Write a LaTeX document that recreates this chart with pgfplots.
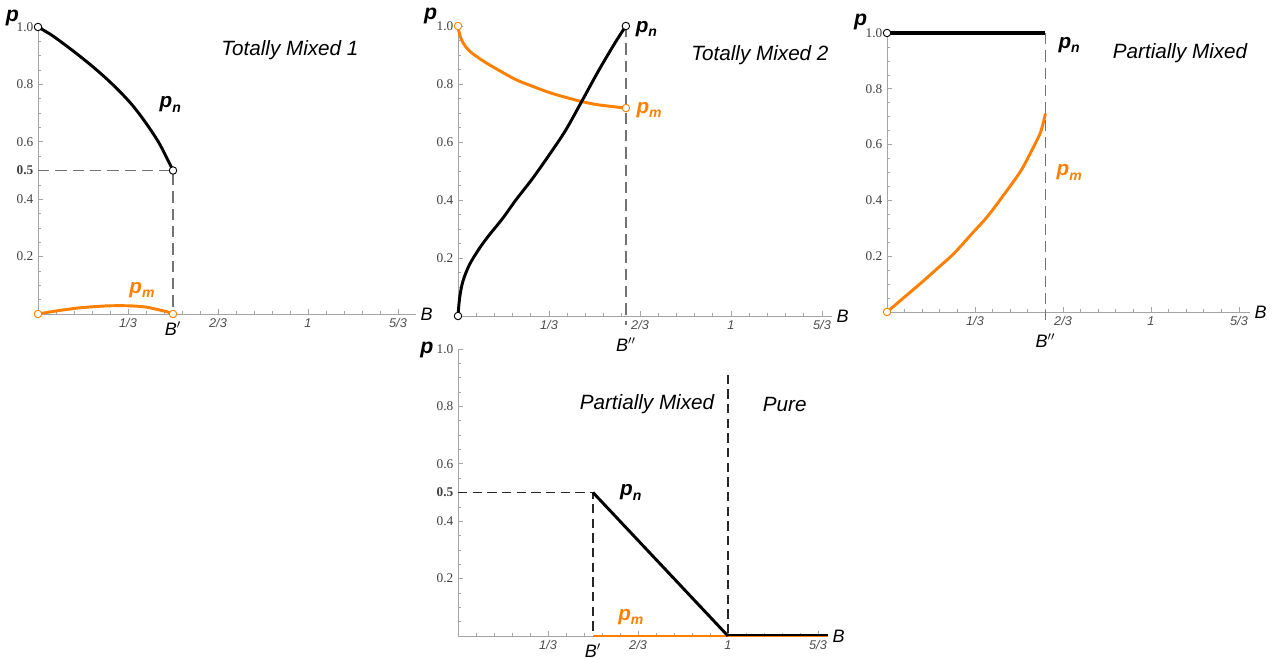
\documentclass[border=0pt]{standalone}
\usepackage{fontspec}
\setmainfont{Liberation Sans}
\newfontfamily\tms{Liberation Serif}
\usepackage{pgfplots}
\pgfplotsset{compat=1.18}
\definecolor{pmorange}{RGB}{255,128,0}
\definecolor{axgray}{RGB}{165,165,165}
\definecolor{dashgray}{RGB}{90,90,90}

\newcommand{\plab}[1]{{\fontsize{15.5}{18}\selectfont\bfseries\itshape p}\raisebox{-0.6ex}{\fontsize{10.5}{12}\selectfont\bfseries\itshape #1}}

\pgfplotsset{
  panel/.style={
    axis lines=middle,
    axis line style={axgray, line width=0.6pt, -},
    enlargelimits=false, clip=false,
    anchor=origin,
    xmin=0, ymin=0, ymax=1,
    xtick={0.3333,0.6667,1,1.3333},
    xticklabels={1/3,2/3,1,5/3},
    minor xtick={0.0667,0.1333,0.2,0.2667,0.4,0.4667,0.5333,0.6,0.7333,0.8,0.8667,0.9333,1.0667,1.1333,1.2,1.2667},
    ytick={0.2,0.4,0.6,0.8,1.0},
    yticklabels={0.2,0.4,0.6,0.8,1.0},
    minor ytick={0.05,0.1,0.15,0.25,0.3,0.35,0.45,0.5,0.55,0.65,0.7,0.75,0.85,0.9,0.95},
    tick align=inside,
    major tick length=4pt, minor tick length=2.5pt,
    every tick/.style={axgray, line width=0.5pt},
    xticklabel style={font=\fontsize{9.5}{10}\selectfont\itshape, text=black!70},
    yticklabel style={font=\fontsize{10}{11}\selectfont\tms, text=black!75},
    /pgf/number format/assume math mode=true,
  },
  halfticks/.style={
    ytick={0.2,0.4,0.5,0.6,0.8,1.0},
    yticklabels={0.2,0.4,\textbf{0.5},0.6,0.8,1.0},
  },
  pn/.style={black, line width=2.2pt},
  pm/.style={pmorange, line width=2.2pt},
  dsh/.style={black!85, line width=0.8pt, dash pattern=on 7pt off 4pt},
  dshlong/.style={dashgray!85, line width=0.9pt, dash pattern=on 8.5pt off 4.5pt},
  openblack/.style={only marks, mark=*, mark size=2.8pt, mark options={fill=white, draw=black, line width=0.7pt}},
  openorange/.style={only marks, mark=*, mark size=2.8pt, mark options={fill=white, draw=pmorange, line width=0.7pt}},
}
\tikzset{
  ttl/.style={font=\fontsize{15.5}{18}\selectfont\itshape},
  plabel/.style={font=\fontsize{16}{18}\selectfont\bfseries\itshape},
  blabel/.style={font=\fontsize{13.5}{16}\selectfont\itshape},
}

\begin{document}
\begin{tikzpicture}
\useasboundingbox (0,0) rectangle (963.75pt,494.25pt);

% Totally Mixed 1
\begin{axis}[panel, halfticks, at={(28.5pt,258.75pt)}, x=202.5pt, y=215.25pt, xmax=1.40]
\addplot[dshlong] coordinates {(0,0.5) (0.5,0.5) (0.5,0)};
\addplot[pn, smooth] coordinates {
  (0,1) (0.05,0.972) (0.1,0.938) (0.15,0.902) (0.2,0.864) (0.25,0.823)
  (0.3,0.778) (0.35,0.727) (0.4,0.665) (0.45,0.593) (0.5,0.5)};
\addplot[pm, smooth] coordinates {
  (0,0) (0.05,0.008) (0.1,0.015) (0.15,0.021) (0.2,0.025) (0.25,0.028)
  (0.3,0.029) (0.35,0.028) (0.4,0.024) (0.45,0.014) (0.48,0.007) (0.5,0)};
\addplot[openblack] coordinates {(0,1) (0.5,0.5)};
\addplot[openorange] coordinates {(0,0) (0.5,0)};
\node[ttl] at (axis cs:0.933,0.92) {Totally Mixed 1};
\node at (axis cs:0.49,0.73) {\plab{n}};
\node at (axis cs:0.385,0.085) {\color{pmorange}\plab{m}};
\node[plabel] at (axis cs:-0.095,1.03) {p};
\node[blabel, anchor=west] at (axis cs:1.40,0) {B};
\node[blabel, anchor=north] at (axis cs:0.5,-0.01) {B$'$};
\end{axis}

% Totally Mixed 2
\begin{axis}[panel, at={(343.5pt,257.25pt)}, x=204.75pt, y=217.5pt, xmax=1.37]
\addplot[dshlong] coordinates {(0.615,1) (0.615,-0.03)};
\addplot[pm, smooth] coordinates {
  (0,1) (0.006,0.971) (0.018,0.943) (0.042,0.914) (0.091,0.88) (0.152,0.846)
  (0.212,0.815) (0.273,0.792) (0.333,0.771) (0.394,0.754) (0.455,0.739)
  (0.515,0.728) (0.615,0.717)};
\addplot[pn, smooth] coordinates {
  (0,0) (0.006,0.063) (0.018,0.12) (0.042,0.177) (0.079,0.234) (0.115,0.28)
  (0.164,0.337) (0.212,0.40) (0.273,0.474) (0.333,0.554) (0.394,0.64)
  (0.455,0.743) (0.515,0.846) (0.576,0.943) (0.615,1.0)};
\addplot[openblack] coordinates {(0,0) (0.615,1)};
\addplot[openorange] coordinates {(0,1) (0.615,0.717)};
\node[ttl] at (axis cs:1.106,0.90) {Totally Mixed 2};
\node at (axis cs:0.69,0.99) {\plab{n}};
\node at (axis cs:0.70,0.71) {\color{pmorange}\plab{m}};
\node[plabel] at (axis cs:-0.10,1.034) {p};
\node[blabel, anchor=west] at (axis cs:1.37,0) {B};
\node[blabel, anchor=north] at (axis cs:0.615,-0.06) {B$''$};
\end{axis}

% Partially Mixed (top right)
\begin{axis}[panel, at={(665.25pt,260.25pt)}, x=198pt, y=209.25pt, xmax=1.375]
\addplot[dshlong] coordinates {(0.60,1) (0.60,-0.03)};
\addplot[pm, smooth] coordinates {
  (0,0) (0.067,0.054) (0.13,0.105) (0.192,0.157) (0.255,0.211) (0.318,0.277)
  (0.381,0.343) (0.444,0.422) (0.507,0.506) (0.551,0.584) (0.582,0.645) (0.60,0.711)};
\addplot[black, line width=3pt] coordinates {(0,1) (0.60,1)};
\addplot[openblack] coordinates {(0,1)};
\addplot[openorange] coordinates {(0,0)};
\node[ttl] at (axis cs:1.11,0.928) {Partially Mixed};
\node at (axis cs:0.69,0.957) {\plab{n}};
\node at (axis cs:0.69,0.50) {\color{pmorange}\plab{m}};
\node[plabel] at (axis cs:-0.10,1.04) {p};
\node[blabel, anchor=west] at (axis cs:1.375,0) {B};
\node[blabel, anchor=north] at (axis cs:0.60,-0.06) {B$''$};
\end{axis}

% Partially Mixed / Pure (bottom)
\begin{axis}[panel, halfticks, at={(343.5pt,17.25pt)}, x=202.5pt, y=215.25pt, xmax=1.37]
\addplot[dsh] coordinates {(0,0.5) (0.5,0.5) (0.5,0)};
\addplot[dsh] coordinates {(1,0.91) (1,0)};
\addplot[pm] coordinates {(0.5,0) (1.37,0)};
\addplot[pn] coordinates {(0.5,0.5) (1,0)};
\addplot[black, line width=1.6pt, yshift=0.5pt] coordinates {(1,0) (1.37,0)};
\node[ttl] at (axis cs:0.70,0.808) {Partially Mixed};
\node[ttl] at (axis cs:1.21,0.808) {Pure};
\node at (axis cs:0.64,0.50) {\plab{n}};
\node at (axis cs:0.64,0.066) {\color{pmorange}\plab{m}};
\node[plabel] at (axis cs:-0.115,0.997) {p};
\node[blabel, anchor=west] at (axis cs:1.37,0) {B};
\node[blabel, anchor=north] at (axis cs:0.5,-0.01) {B$'$};
\end{axis}
\end{tikzpicture}
\end{document}
